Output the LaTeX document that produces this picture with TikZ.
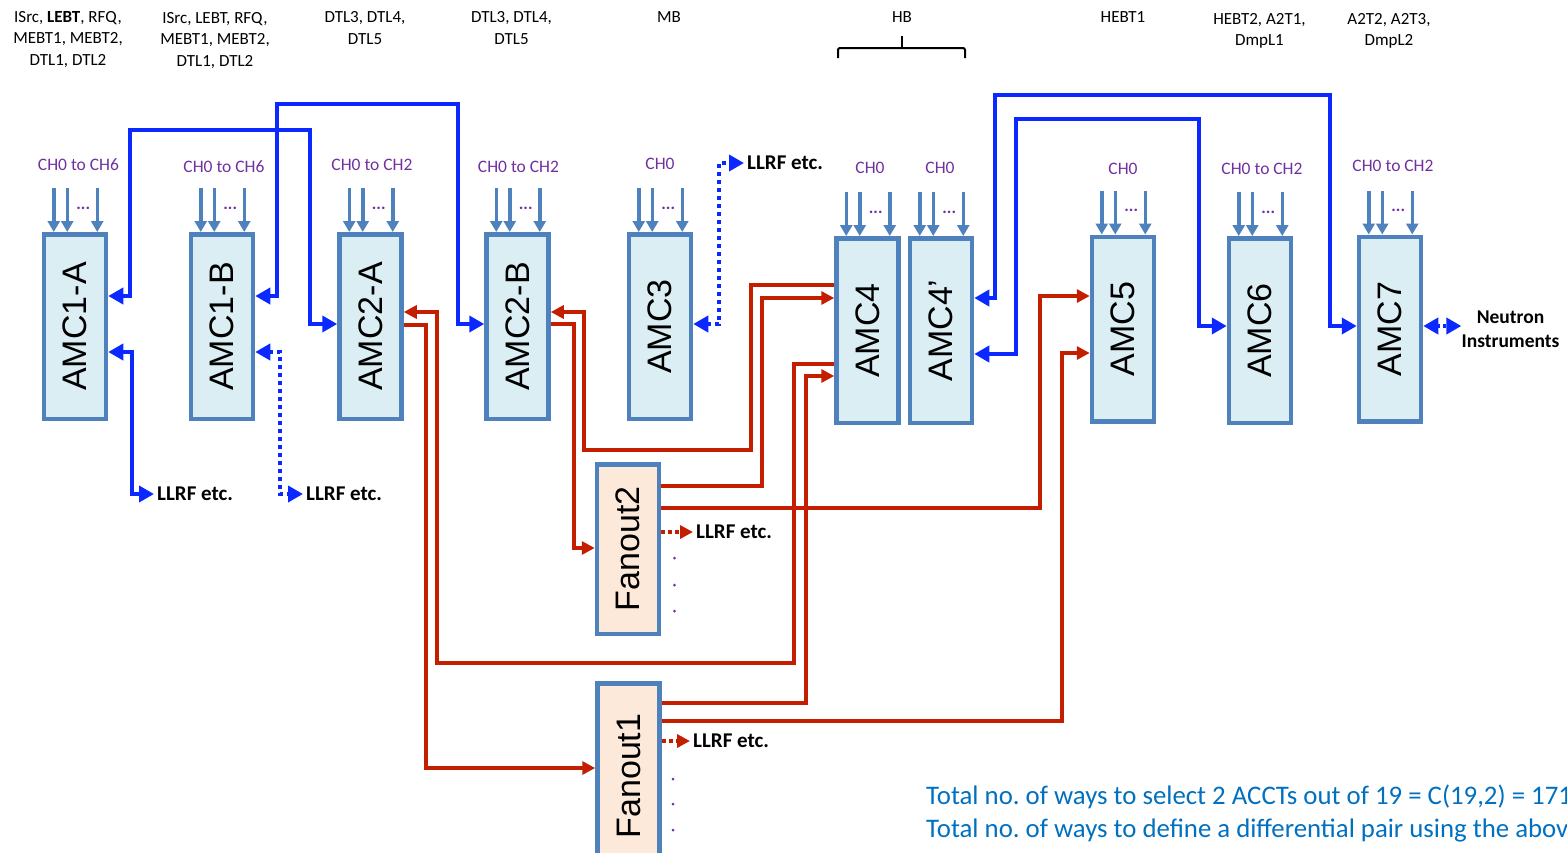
\documentclass[tikz,border=0pt]{standalone}
\usepackage{fontspec}
\setmainfont{Carlito}
\newfontfamily\boxfont{Liberation Sans}
\usetikzlibrary{arrows.meta,calc}
\definecolor{boxfill}{HTML}{DAEEF3}
\definecolor{boxline}{HTML}{4F81BD}
\definecolor{fanfill}{HTML}{FDE9D9}
\definecolor{bluec}{HTML}{0A28FF}
\definecolor{redc}{HTML}{C41E00}
\definecolor{chpurple}{HTML}{7030A0}
\definecolor{notecol}{HTML}{0070C0}
\newcommand\amclabel[1]{\rotatebox{90}{\boxfont\fontsize{34}{34}\selectfont #1}}
\frenchspacing
\begin{document}
\begin{tikzpicture}[x=1pt,y=-1pt,
  amc/.style={draw=boxline, fill=boxfill, line width=4.5pt, minimum width=62pt, minimum height=184.5pt, inner sep=0pt},
  fan/.style={amc, fill=fanfill},
  inarr/.style={draw=boxline, line width=3.5pt, arrows={-Triangle[length=11pt,width=12pt]}},
  dotsn/.style={text=chpurple, font=\fontsize{17}{17}\selectfont\bfseries, inner sep=0pt},
  chlab/.style={text=chpurple, font=\fontsize{17.5}{20}\selectfont, inner sep=0pt},
  toplab/.style={align=center, font=\fontsize{17}{21.5}\selectfont, inner sep=0pt},
  llrf/.style={anchor=west, font=\fontsize{21}{24}\selectfont\bfseries, inner sep=3pt},
  bluel/.style={draw=bluec, line width=4.5pt},
  bidir/.style={arrows={Triangle[length=15pt,width=16pt]-Triangle[length=15pt,width=16pt]}},
  dotl/.style={dash pattern=on 4pt off 4pt},
  redarr/.style={draw=redc, line width=4pt, arrows={-Triangle[length=13pt,width=13pt]}},
  note/.style={anchor=base west, text=notecol, font=\fontsize{26.8}{32}\selectfont, inner sep=0pt}
]
\useasboundingbox (0,0) rectangle (1567,852);
\clip (0,0) rectangle (1567,852);

% top labels
\node[toplab] (t1) at (68,39.5) {ISrc, \textbf{LEBT}, RFQ,\\MEBT1, MEBT2,\\DTL1, DTL2};
\node[toplab] (t2) at (215,40.5) {ISrc, LEBT, RFQ,\\MEBT1, MEBT2,\\DTL1, DTL2};
\node[toplab] (t3) at (365,28) {DTL3, DTL4,\\DTL5};
\node[toplab] (t4) at (511.5,28) {DTL3, DTL4,\\DTL5};
\node[toplab] (t5) at (669,17.5) {MB};
\node[toplab] (t6) at (902,17) {HB};
\node[toplab] (t7) at (1123,17) {HEBT1};
\node[toplab] (t8) at (1259.5,31) {HEBT2, A2T1,\\DmpL1};
\node[toplab] (t9) at (1389,31) {A2T2, A2T3,\\DmpL2};
\draw[line width=2pt, rounded corners=2pt] (838,58) -- (838,48) -- (965,48) -- (965,58);
\draw[line width=2pt] (902,48) -- (902,36);

% boxes
\node[amc] (amc1a) at (75,326.5) {\amclabel{AMC1-A}};
\node[amc] (amc1b) at (222,326.5) {\amclabel{AMC1-B}};
\node[amc] (amc2a) at (370.5,326.5) {\amclabel{AMC2-A}};
\node[amc] (amc2b) at (517.5,326.5) {\amclabel{AMC2-B}};
\node[amc] (amc3) at (660,326.5) {\amclabel{AMC3}};
\node[amc] (amc4) at (867.5,330.5) {\amclabel{AMC4}};
\node[amc] (amc4p) at (941,330.5) {\amclabel{AMC4’}};
\node[amc] (amc5) at (1123,329) {\amclabel{AMC5}};
\node[amc] (amc6) at (1260,330.5) {\amclabel{AMC6}};
\node[amc] (amc7) at (1390,329) {\amclabel{AMC7}};
\node[fan, minimum height=169.5pt] (fan2) at (628,549) {\amclabel{Fanout2}};
\node[fan, minimum height=185.5pt] (fan1) at (628.5,776) {\amclabel{Fanout1}};

% input arrows and channel labels
\foreach \n in {amc1a,amc1b,amc2a,amc2b,amc3,amc4,amc4p,amc5,amc6,amc7}{
  \foreach \dx in {12,25.5,55.5}{
    \draw[inarr] ($(\n.north west)+(\dx,-44)$) -- ($(\n.north west)+(\dx,0)$);
  }
  \node[dotsn] (\n-dots) at ($(\n.north west)+(41.5,-24)$) {...};
}
\node[chlab] (ch1) at (78.5,165) {CH0 to CH6};
\node[chlab] (ch2) at (224,167) {CH0 to CH6};
\node[chlab] (ch3) at (372,165) {CH0 to CH2};
\node[chlab] (ch4) at (518.5,167) {CH0 to CH2};
\node[chlab] (ch5) at (660,164) {CH0};
\node[chlab] (ch6) at (870,168) {CH0};
\node[chlab] (ch7) at (940,168) {CH0};
\node[chlab] (ch8) at (1123,169) {CH0};
\node[chlab] (ch9) at (1262,169) {CH0 to CH2};
\node[chlab] (ch10) at (1393,166) {CH0 to CH2};

% LLRF and other labels
\node[llrf] (llrf1) at (154,494) {LLRF etc.};
\node[llrf] (llrf2) at (303,494) {LLRF etc.};
\node[llrf] (llrf3) at (744,163) {LLRF etc.};
\node[llrf] (llrf4) at (693,532) {LLRF etc.};
\node[llrf] (llrf5) at (690,741) {LLRF etc.};
\node[align=center, font=\fontsize{19.5}{24}\selectfont\bfseries, inner sep=0pt] (neutron) at (1510.5,329) {Neutron\\Instruments};

% blue connectors
\draw[bluel,bidir] (amc1a.east |- 0,296) -- (130,296) -- (130,130) -- (310,130) -- (310,324) -- (amc2a.west |- 0,324);
\draw[bluel,bidir] (amc1b.east |- 0,296) -- (277,296) -- (277,104) -- (458,104) -- (458,324) -- (amc2b.west |- 0,324);
\draw[bluel,bidir] (amc1a.east |- 0,352) -- (132,352) -- (132,494) -- (llrf1.west);
\draw[bluel,dotl,bidir] (amc1b.east |- 0,352) -- (280,352) -- (280,494) -- (llrf2.west);
\draw[bluel,dotl,bidir] (amc3.east |- 0,324) -- (719,324) -- (719,163) -- (llrf3.west);
\draw[bluel,bidir] (amc4p.east |- 0,298) -- (995,298) -- (995,95) -- (1330,95) -- (1330,326) -- (amc7.west |- 0,326);
\draw[bluel,bidir] (amc4p.east |- 0,354) -- (1016,354) -- (1016,119) -- (1199,119) -- (1199,326) -- (amc6.west |- 0,326);
\draw[bluel,dash pattern=on 3pt off 3pt,bidir] (amc7.east |- 0,326) -- (neutron.west |- 0,326);

% red connectors
\draw[redarr] (amc4.west |- 0,364) -- (794,364) -- (794,663) -- (437,663) -- (437,312) -- (amc2a.east |- 0,312);
\draw[redarr] (amc4.west |- 0,285) -- (751,285) -- (751,450) -- (584,450) -- (584,312) -- (amc2b.east |- 0,312);
\draw[redarr] (amc2a.east |- 0,325) -- (426,325) -- (426,768) -- (fan1.west |- 0,768);
\draw[redarr] (amc2b.east |- 0,324) -- (574,324) -- (574,548) -- (fan2.west |- 0,548);
\draw[redarr] (fan2.east |- 0,486) -- (762,486) -- (762,298) -- (amc4.west |- 0,298);
\draw[redarr] (fan2.east |- 0,508) -- (1040,508) -- (1040,296) -- (amc5.west |- 0,296);
\draw[redarr] (fan1.east |- 0,703) -- (806,703) -- (806,376) -- (amc4.west |- 0,376);
\draw[redarr] (fan1.east |- 0,721) -- (1062,721) -- (1062,353) -- (amc5.west |- 0,353);
\draw[redarr,dash pattern=on 4pt off 3pt] (fan2.east |- 0,532) -- (llrf4.west);
\draw[redarr,dash pattern=on 4pt off 3pt] (fan1.east |- 0,741) -- (llrf5.west);

% vertical ellipses
\foreach \yy in {558,585,611}{\fill[chpurple] (674.5,\yy) circle (1.5);}
\foreach \yy in {779,804,830}{\fill[chpurple] (673,\yy) circle (1.5);}

% notes
\node[note] (note1) at (926,804) {Total no. of ways to select 2 ACCTs out of 19 = C(19,2) = 171};
\node[note] (note2) at (926,837) {Total no. of ways to define a differential pair using the abov};
\end{tikzpicture}
\end{document}
